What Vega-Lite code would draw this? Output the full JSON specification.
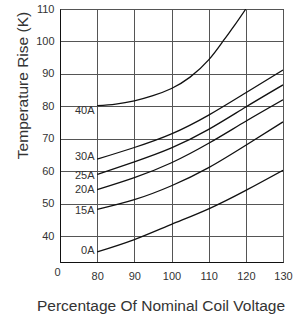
{
  "$schema": "https://vega.github.io/schema/vega-lite/v6.json",
  "autosize": {"type": "none"},
  "width": 223,
  "height": 253,
  "padding": {"left": 60, "top": 9, "right": 14, "bottom": 58},
  "background": "white",
  "config": {
    "view": {"stroke": "#111", "strokeWidth": 1},
    "font": "Liberation Sans",
    "axis": {"labelFont": "Liberation Sans", "titleFont": "Liberation Sans", "labelColor": "#333", "titleColor": "#333", "titleFontWeight": "normal"}
  },
  "datasets": {
    "curves": [
      {"series": "0A", "v": 80, "t": 35.1}, {"series": "0A", "v": 90, "t": 38.9}, {"series": "0A", "v": 100, "t": 43.6}, {"series": "0A", "v": 110, "t": 48.4}, {"series": "0A", "v": 120, "t": 54.1}, {"series": "0A", "v": 130, "t": 60.3},
      {"series": "15A", "v": 80, "t": 48.2}, {"series": "15A", "v": 90, "t": 51.2}, {"series": "15A", "v": 100, "t": 55.5}, {"series": "15A", "v": 110, "t": 61.1}, {"series": "15A", "v": 120, "t": 68.0}, {"series": "15A", "v": 130, "t": 75.2},
      {"series": "20A", "v": 80, "t": 54.3}, {"series": "20A", "v": 90, "t": 58.0}, {"series": "20A", "v": 100, "t": 62.6}, {"series": "20A", "v": 110, "t": 68.6}, {"series": "20A", "v": 120, "t": 75.4}, {"series": "20A", "v": 130, "t": 82.0},
      {"series": "25A", "v": 80, "t": 59.0}, {"series": "25A", "v": 90, "t": 62.9}, {"series": "25A", "v": 100, "t": 67.2}, {"series": "25A", "v": 110, "t": 72.9}, {"series": "25A", "v": 120, "t": 79.8}, {"series": "25A", "v": 130, "t": 86.6},
      {"series": "30A", "v": 80, "t": 63.7}, {"series": "30A", "v": 90, "t": 67.3}, {"series": "30A", "v": 100, "t": 71.5}, {"series": "30A", "v": 110, "t": 77.3}, {"series": "30A", "v": 120, "t": 84.2}, {"series": "30A", "v": 130, "t": 91.2},
      {"series": "40A", "v": 80, "t": 80.2}, {"series": "40A", "v": 85, "t": 80.7}, {"series": "40A", "v": 90, "t": 81.7}, {"series": "40A", "v": 95, "t": 83.3}, {"series": "40A", "v": 100, "t": 85.5}, {"series": "40A", "v": 105, "t": 89.0}, {"series": "40A", "v": 110, "t": 94.3}, {"series": "40A", "v": 114, "t": 100.3}, {"series": "40A", "v": 117, "t": 105.0}, {"series": "40A", "v": 120, "t": 110.0}
    ],
    "labels": [
      {"series": "40A", "v": 79.3, "t": 78.5},
      {"series": "30A", "v": 79.3, "t": 64.3},
      {"series": "25A", "v": 79.3, "t": 58.4},
      {"series": "20A", "v": 79.3, "t": 54.1},
      {"series": "15A", "v": 79.3, "t": 47.6},
      {"series": "0A", "v": 79.3, "t": 35.3}
    ]
  },
  "encoding": {
    "x": {
      "field": "v", "type": "quantitative",
      "scale": {"domain": [70, 130], "nice": false, "zero": false},
      "axis": {
        "values": [70, 80, 90, 100, 110, 120, 130],
        "tickCount": 7,
        "labelOverlap": false,
        "labelFlush": false,
        "labelExpr": "datum.value == 70 ? '0' : datum.label",
        "labelAlign": {"condition": {"test": "datum.value == 70", "value": "right"}, "value": "center"},
        "labelPadding": {"condition": {"test": "datum.value == 70", "value": 4}, "value": 8},
        "labelFontSize": 11,
        "ticks": false,
        "domainColor": "#111",
        "gridColor": "#555",
        "gridWidth": 1,
        "title": "Percentage Of Nominal Coil Voltage",
        "titleFontSize": 15.5,
        "titleX": 100.5,
        "titleY": 43,
        "titleBaseline": "middle",
        "titleAlign": "center"
      }
    },
    "y": {
      "field": "t", "type": "quantitative",
      "scale": {"domain": [32, 110], "nice": false, "zero": false},
      "axis": {
        "values": [40, 50, 60, 70, 80, 90, 100, 110],
        "tickCount": 8,
        "labelOverlap": false,
        "labelFlush": false,
        "labelFontSize": 11,
        "labelPadding": 6,
        "ticks": false,
        "domainColor": "#111",
        "gridColor": "#555",
        "gridWidth": 1,
        "title": "Temperature Rise (K)",
        "titleFontSize": 15.5,
        "titleX": -38,
        "titleY": 76,
        "titleBaseline": "middle",
        "titleAlign": "center"
      }
    }
  },
  "layer": [
    {
      "data": {"name": "curves"},
      "mark": {"type": "line", "interpolate": "natural", "color": "#111", "strokeWidth": 1.3, "clip": true},
      "encoding": {"detail": {"field": "series"}}
    },
    {
      "data": {"name": "labels"},
      "mark": {"type": "text", "align": "right", "baseline": "middle", "fontSize": 11, "color": "#333", "font": "Liberation Sans"},
      "encoding": {"text": {"field": "series"}}
    }
  ]
}
